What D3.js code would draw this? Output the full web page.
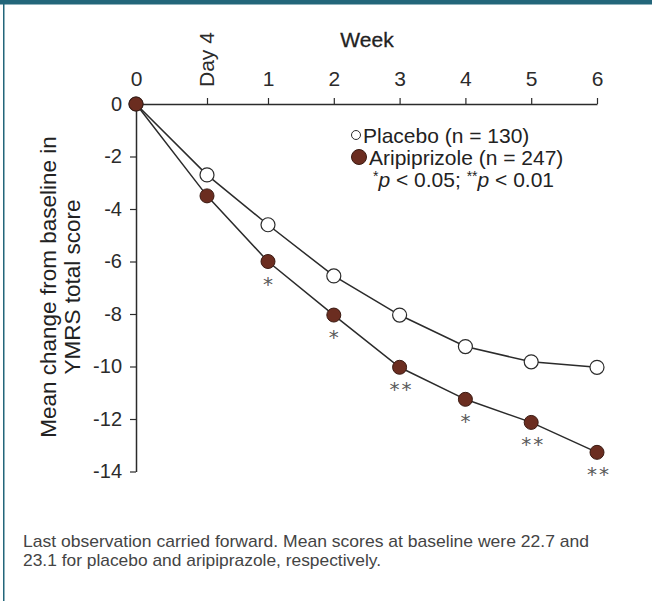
<!DOCTYPE html>
<html>
<head>
<meta charset="utf-8">
<script src="https://cdn.jsdelivr.net/npm/d3@7"></script>
<style>
  html, body { margin: 0; padding: 0; background: #fff; }
  svg { display: block; font-family: "Liberation Sans", Arial, sans-serif; }
</style>
</head>
<body>
<svg id="chart"></svg>
<script>
// chart data
const xLabels = ["0", "Day 4", "1", "2", "3", "4", "5", "6"];
const xWeeks = [0, 4 / 7, 1, 2, 3, 4, 5, 6];
const placebo = [0, -2.7, -4.6, -6.55, -8.04, -9.24, -9.82, -10.03];
const aripiprazole = [0, -3.5, -6.0, -8.04, -10.03, -11.25, -12.13, -13.27];
const significance = ["", "", "*", "*", "**", "*", "**", "**"];
const yTicks = [0, -2, -4, -6, -8, -10, -12, -14];
const legendLabels = ["Placebo (n = 130)", "Aripiprizole (n = 247)"];
const footnote = [
  "Last observation carried forward. Mean scores at baseline were 22.7 and",
  "23.1 for placebo and aripiprazole, respectively."
];

const svgWidth = 652;
const svgHeight = 601;
const teal = "#23667a";
const brown = "#6b2d20";
const ink = "#2b2b2b";

const svg = d3.select("#chart").attr("width", svgWidth).attr("height", svgHeight);

// frame: teal band on top, thin teal rule on the left
svg.append("rect").attr("x", 0).attr("y", 0).attr("width", svgWidth).attr("height", 4.5).attr("fill", teal);
svg.append("rect").attr("x", 3).attr("y", 0).attr("width", 1.5).attr("height", svgHeight).attr("fill", teal);

// scales (x is stretched between 0 and week 1, as in the original)
const x = d3.scaleLinear().domain([0, 4 / 7, 1, 6]).range([136, 207, 268, 597]);
const y = d3.scaleLinear().domain([0, -14]).range([104, 471.5]);

// x axis on top
const xAxis = svg.append("g")
  .attr("transform", `translate(0,${y(0)})`)
  .call(d3.axisTop(x).tickValues(xWeeks).tickFormat((d, i) => xLabels[i])
    .tickSize(6).tickSizeOuter(0).tickPadding(12));
xAxis.attr("font-size", null).attr("font-family", null);
xAxis.select(".domain").attr("stroke", ink).attr("stroke-width", 1.5);
xAxis.selectAll(".tick line").attr("stroke", ink).attr("stroke-width", 1.2);
xAxis.selectAll(".tick text")
  .style("font-size", "21px").attr("fill", ink);
// first tick mark sits on the y axis, drop it
xAxis.selectAll(".tick").filter((d, i) => i === 0).select("line").remove();
// rotate the Day 4 label, reading upwards
xAxis.selectAll(".tick text").filter((d, i) => i === 1)
  .attr("transform", "translate(6,-17) rotate(-90)")
  .attr("text-anchor", "start")
  .attr("x", 0).attr("y", 0).attr("dy", "0");

svg.append("text")
  .attr("x", 367).attr("y", 47)
  .attr("text-anchor", "middle")
  .style("font-size", "21px").attr("fill", "#222")
  .attr("stroke", "#222").attr("stroke-width", 0.3)
  .text("Week");

// y axis
const yAxis = svg.append("g")
  .attr("transform", `translate(${x(0)},0)`)
  .call(d3.axisLeft(y).tickValues(yTicks).tickFormat(d3.format("d"))
    .tickSize(6).tickSizeOuter(0).tickPadding(8));
yAxis.attr("font-size", null).attr("font-family", null);
yAxis.select(".domain").attr("stroke", ink).attr("stroke-width", 1.5);
yAxis.selectAll(".tick line").attr("stroke", ink).attr("stroke-width", 1.2);
yAxis.selectAll(".tick text")
  .style("font-size", "20px").attr("fill", ink)
  .text(d => d < 0 ? "-" + Math.abs(d) : d);

// y axis title, two lines
const yTitle = ["Mean change from baseline in", "YMRS total score"];
svg.selectAll(".ytitle").data(yTitle).join("text")
  .attr("class", "ytitle")
  .attr("transform", (d, i) => `translate(${56 + i * 24},287) rotate(-90)`)
  .attr("text-anchor", "middle")
  .style("font-size", "22.5px").attr("fill", "#222")
  .text(d => d);

// lines
const line = (vals) => d3.line().x((d, i) => x(xWeeks[i])).y(d => y(d))(vals);
svg.append("path").attr("d", line(placebo))
  .attr("fill", "none").attr("stroke", ink).attr("stroke-width", 1.5);
svg.append("path").attr("d", line(aripiprazole))
  .attr("fill", "none").attr("stroke", ink).attr("stroke-width", 1.5);

// markers
svg.selectAll(".pl").data(placebo).join("circle")
  .attr("class", "pl")
  .attr("cx", (d, i) => x(xWeeks[i])).attr("cy", d => y(d)).attr("r", 7)
  .attr("fill", "#fff").attr("stroke", ink).attr("stroke-width", 1.2);
svg.selectAll(".ar").data(aripiprazole).join("circle")
  .attr("class", "ar")
  .attr("cx", (d, i) => x(xWeeks[i])).attr("cy", d => y(d)).attr("r", 7)
  .attr("fill", brown).attr("stroke", "#3a1a12").attr("stroke-width", 1);

// significance stars under the aripiprazole points
svg.selectAll(".sig").data(aripiprazole).join("text")
  .attr("class", "sig")
  .attr("x", (d, i) => x(xWeeks[i]) + (significance[i].length > 1 ? 2 : 0))
  .attr("y", d => y(d) + 29)
  .attr("text-anchor", "middle")
  .attr("font-family", "DejaVu Sans, sans-serif")
  .style("font-size", "20px").attr("fill", "#5a5a5a")
  .attr("letter-spacing", (d, i) => significance[i].length > 1 ? 2 : 0)
  .text((d, i) => significance[i]);

// legend
const legend = svg.append("g");
legend.append("circle").attr("cx", 356).attr("cy", 135).attr("r", 4.5)
  .attr("fill", "#fff").attr("stroke", ink).attr("stroke-width", 1);
legend.append("text").attr("x", 363).attr("y", 142.5)
  .style("font-size", "21px").attr("fill", "#222").text(legendLabels[0]);
legend.append("circle").attr("cx", 359).attr("cy", 157).attr("r", 7.5)
  .attr("fill", brown).attr("stroke", "#3a1a12").attr("stroke-width", 1);
legend.append("text").attr("x", 369).attr("y", 164.5)
  .style("font-size", "21px").attr("fill", "#222").text(legendLabels[1]);

const pnote = legend.append("text").attr("x", 373).attr("y", 187)
  .style("font-size", "21px").attr("fill", "#222");
pnote.append("tspan").style("font-size", "14px").attr("dy", -6).text("*");
pnote.append("tspan").attr("font-style", "italic").attr("dy", 6).text("p");
pnote.append("tspan").text(" < 0.05; ");
pnote.append("tspan").style("font-size", "14px").attr("dy", -6).text("**");
pnote.append("tspan").attr("font-style", "italic").attr("dy", 6).text("p");
pnote.append("tspan").text(" < 0.01");

// footnote
svg.selectAll(".foot").data(footnote).join("text")
  .attr("class", "foot")
  .attr("x", 23).attr("y", (d, i) => 547 + i * 19)
  .attr("font-family", "Liberation Sans Narrow, Arial Narrow, sans-serif")
  .style("font-size", "17px").attr("fill", "#444")
  .attr("textLength", (d, i) => i === 0 ? 566 : 358)
  .attr("lengthAdjust", "spacingAndGlyphs")
  .text(d => d);
</script>
</body>
</html>
